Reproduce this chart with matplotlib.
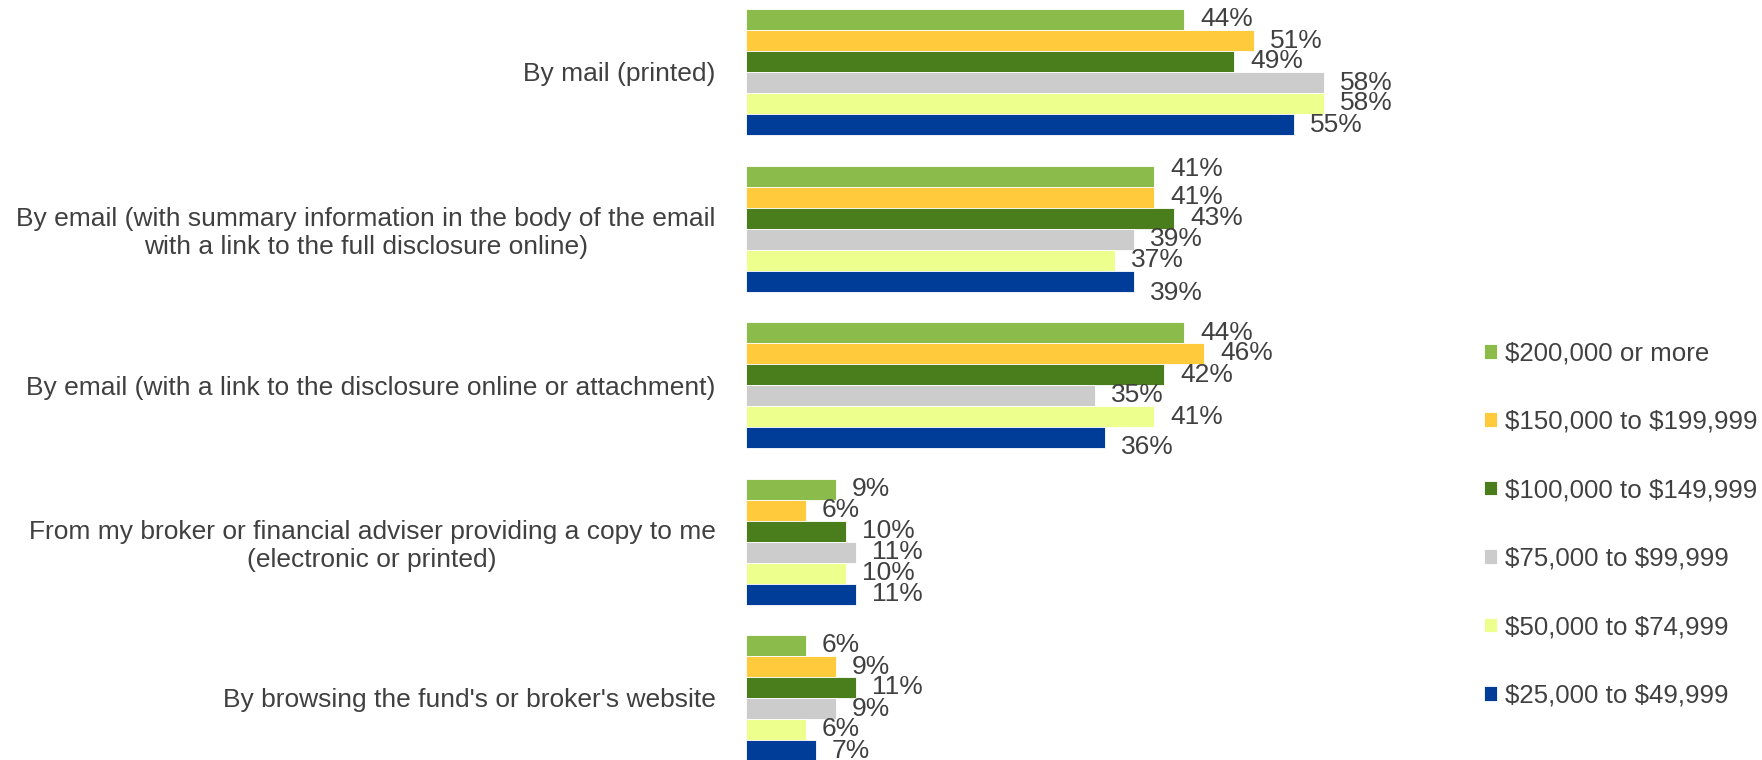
import numpy as np
import matplotlib
matplotlib.use("Agg")
import matplotlib.pyplot as plt

# categories, top to bottom
categories = [
    "By mail (printed)",
    "By email (with summary information in the body of the email\nwith a link to the full disclosure online)",
    "By email (with a link to the disclosure online or attachment)",
    "From my broker or financial adviser providing a copy to me\n(electronic or printed)",
    "By browsing the fund's or broker's website",
]

# income groups (legend order, also bar order inside each group)
series_names = [
    "$200,000 or more",
    "$150,000 to $199,999",
    "$100,000 to $149,999",
    "$75,000 to $99,999",
    "$50,000 to $74,999",
    "$25,000 to $49,999",
]

inc_200k_plus = [44, 41, 44, 9, 6]
inc_150k_199k = [51, 41, 46, 6, 9]
inc_100k_149k = [49, 43, 42, 10, 11]
inc_75k_99k = [58, 39, 35, 11, 9]
inc_50k_74k = [58, 37, 41, 10, 6]
inc_25k_49k = [55, 39, 36, 11, 7]

series_values = [inc_200k_plus, inc_150k_199k, inc_100k_149k,
                 inc_75k_99k, inc_50k_74k, inc_25k_49k]

colors = ["#8BBB4A", "#FFCB3D", "#4A7E1D", "#CCCCCC", "#EDFF8C", "#003D99"]
text_color = "#404040"
fs = 19

plt.rcParams["font.family"] = ["Liberation Sans", "DejaVu Sans"]
plt.rcParams["text.parse_math"] = False  # keep the "$" signs literal

fig = plt.figure(figsize=(17.62, 7.6), dpi=100)
ax = fig.add_axes([746 / 1762, 0.0, 700 / 1762, 1.0])

bar_h = 21 / 156.5
y = np.arange(len(categories))

# a few labels sit a little off the bar centre in the original (pixels, up is +)
nudge = {(1, 0): 7, (1, 5): -12, (2, 5): -10}

bars = []
for j, (name, vals, col) in enumerate(zip(series_names, series_values, colors)):
    pos = y + (j - 2.5) * bar_h
    b = ax.barh(pos, vals, height=bar_h, color=col, edgecolor="white",
                linewidth=0.6, label=name)
    bars.append(b)
    for i, v in enumerate(vals):
        ax.annotate(f"{v}%", xy=(v, pos[i]), xytext=(16, nudge.get((i, j), 0)),
                    textcoords="offset pixels", ha="left", va="center",
                    fontsize=fs, color=text_color)

ax.set_xlim(0, 700 / 9.96)
ax.set_ylim((760 - 72) / 156.5, -72 / 156.5)

ax.set_yticks(y)
ax.set_yticklabels(categories, fontsize=fs, color=text_color,
                   ha="right", multialignment="center", linespacing=1.2)
ax.tick_params(axis="y", length=0, pad=22)
ax.set_xticks([])
for s in ax.spines.values():
    s.set_visible(False)

fig.legend(handles=bars, labels=series_names, loc="upper left",
           bbox_to_anchor=(1474 / 1762, 1 - 331 / 760), frameon=False,
           fontsize=18.6, labelcolor=text_color, handlelength=0.5,
           handleheight=0.5, handletextpad=0.3, labelspacing=1.72,
           borderaxespad=0)

fig.savefig("out.png", dpi=100, facecolor="white")
